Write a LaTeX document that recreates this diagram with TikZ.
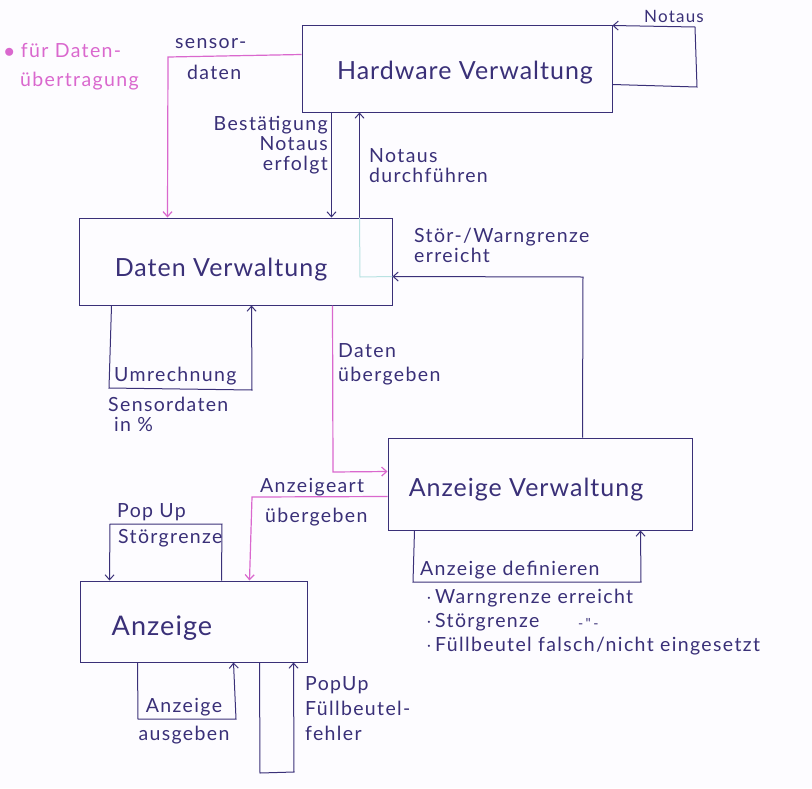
\documentclass[tikz,border=0pt]{standalone}
\usepackage{fontspec}
\setmainfont{Lato}
\newfontfamily\handfont[LetterSpace=7]{Lato}
\newfontfamily\titlefont[LetterSpace=4]{Lato}
\usetikzlibrary{arrows.meta}
\definecolor{ink}{RGB}{58,48,120}
\definecolor{pinkink}{RGB}{218,104,206}
\definecolor{cyanink}{RGB}{184,226,226}
\definecolor{paper}{RGB}{253,252,255}
\tikzset{
  box/.style={draw=ink, line width=1pt, rectangle, inner sep=0pt},
  title/.style={text=ink, font=\titlefont\fontsize{25}{28}\selectfont, inner sep=0pt},
  lbl/.style={text=ink, font=\handfont\fontsize{19.5}{20}\selectfont, inner sep=0pt, anchor=west},
  flow/.style={draw=ink, line width=1pt, -{Straight Barb[length=5pt,width=9pt]}},
  pflow/.style={draw=pinkink, line width=1.2pt, -{Straight Barb[length=5pt,width=9pt]}},
}
\begin{document}
\begin{tikzpicture}[x=1pt,y=-1pt]
\fill[paper] (0,0) rectangle (812,788);
\useasboundingbox (0,0) rectangle (812,788);

% boxes
\node[box, minimum width=310pt, minimum height=87pt] (hw) at (457,68.5) {};
\node[box, minimum width=313pt, minimum height=87pt] (dv) at (235.5,261.5) {};
\node[box, minimum width=304pt, minimum height=92pt] (av) at (540,484) {};
\node[box, minimum width=227pt, minimum height=81pt] (az) at (193.5,621.5) {};

% titles
\node[title] (hwt) at (465,73) {Hardware Verwaltung};
\node[title] (dvt) at (221,270) {Daten Verwaltung};
\node[title] (avt) at (526,490) {Anzeige Verwaltung};
\node[title, font=\titlefont\fontsize{27}{30}\selectfont] (azt) at (162,628) {Anzeige};

% Notaus self loop on hardware
\draw[flow] ([yshift=-60pt]hw.north east) -- (697,87) -- (695,27) -- ([yshift=-1pt]hw.north east);
\node[text=ink, font=\handfont\fontsize{17}{20}\selectfont, inner sep=0pt] (lnotaus) at (674,16) {Notaus};

% sensor daten (pink)
\draw[pflow] ([yshift=-30pt]hw.north west) -- (168,57) -- ([xshift=89pt]dv.north west);
\node[lbl] (lsens1) at (175,44) {sensor-};
\node[lbl] (lsens2) at (187,72) {daten};
\node[lbl, text=pinkink] (note1) at (4,50) {$\bullet$ für Daten-};
\node[lbl, text=pinkink] (note2) at (20,81) {übertragung};

% Bestaetigung Notaus erfolgt
\draw[flow] ([xshift=30pt]hw.south west) -- ([xshift=253pt]dv.north west);
\node[lbl, anchor=north east, align=right] (lbest) at (328,116) {Bestätigung\\Notaus\\erfolgt};

% Notaus durchfuehren
\draw[flow] ([xshift=281pt]dv.north west) -- ([xshift=58pt]hw.south west);
\node[lbl, anchor=north west, align=left] (lnd) at (369,148) {Notaus\\durchführen};
\draw[cyanink, line width=1pt] ([xshift=281pt]dv.north west) -- (360,277) -- ([yshift=-59pt]dv.north east);

% Stoer-/Warngrenze erreicht
\draw[flow] ([xshift=195pt]av.north west) -- (583,277) -- ([yshift=-59pt]dv.north east);
\node[lbl, anchor=north west, align=left] (lswg) at (414,228) {Stör-/Warngrenze\\erreicht};

% Umrechnung loop
\draw[flow] ([xshift=33pt]dv.south west) -- (109,388) -- (252,390) -- ([xshift=173pt]dv.south west);
\node[lbl] (lumr) at (114,376) {Umrechnung};
\node[lbl, anchor=north west, align=left] (lsd) at (108,397) {Sensordaten\\\hspace{6pt}in \%};

% Daten uebergeben (pink)
\draw[pflow] ([xshift=254pt]dv.south west) -- (333,472) -- ([yshift=-34pt]av.north west);
\node[lbl, anchor=north west, align=left] (ldu) at (338,343) {Daten\\[4pt]übergeben};

% Anzeige definieren loop
\draw[flow] ([xshift=27pt]av.south west) -- (413,582) -- (641,582) -- ([xshift=253pt]av.south west);
\node[lbl] (lad) at (420,570) {Anzeige definieren};
\node[lbl] (lb1) at (426,598) {$\cdot$\,Warngrenze erreicht};
\node[lbl] (lb2) at (426,622) {$\cdot$\,Störgrenze};
\node[lbl, font=\handfont\fontsize{14}{16}\selectfont] (lb2d) at (578,623) {-\,"\,-};
\node[lbl] (lb3) at (426,646) {$\cdot$\,Füllbeutel falsch/nicht eingesetzt};

% Anzeigeart uebergeben (pink)
\draw[pflow] ([yshift=-59pt]av.north west) -- (252,497) -- ([xshift=170pt]az.north west);
\node[lbl] (laa1) at (260,487) {Anzeigeart};
\node[lbl] (laa2) at (265,517) {übergeben};

% PopUp Stoergrenze loop
\draw[flow] ([xshift=142pt]az.north west) -- (222,524) -- (110,524) -- ([xshift=30pt]az.north west);
\node[lbl] (lps1) at (117,512) {Pop Up};
\node[lbl] (lps2) at (118,538) {Störgrenze};

% Anzeige ausgeben loop
\draw[flow] ([xshift=58pt]az.south west) -- (138,719) -- (236,719) -- ([xshift=154pt]az.south west);
\node[lbl, anchor=north, align=center] (lausg) at (184,698) {Anzeige\\[8pt]ausgeben};

% PopUp Fuellbeutel fehler loop
\draw[flow] ([xshift=180pt]az.south west) -- (260,773) -- (294,772) -- ([xshift=214pt]az.south west);
\node[lbl, anchor=north west, align=left] (lpf) at (305,676) {PopUp\\[5pt]Füllbeutel-\\[5pt]fehler};
\end{tikzpicture}
\end{document}
